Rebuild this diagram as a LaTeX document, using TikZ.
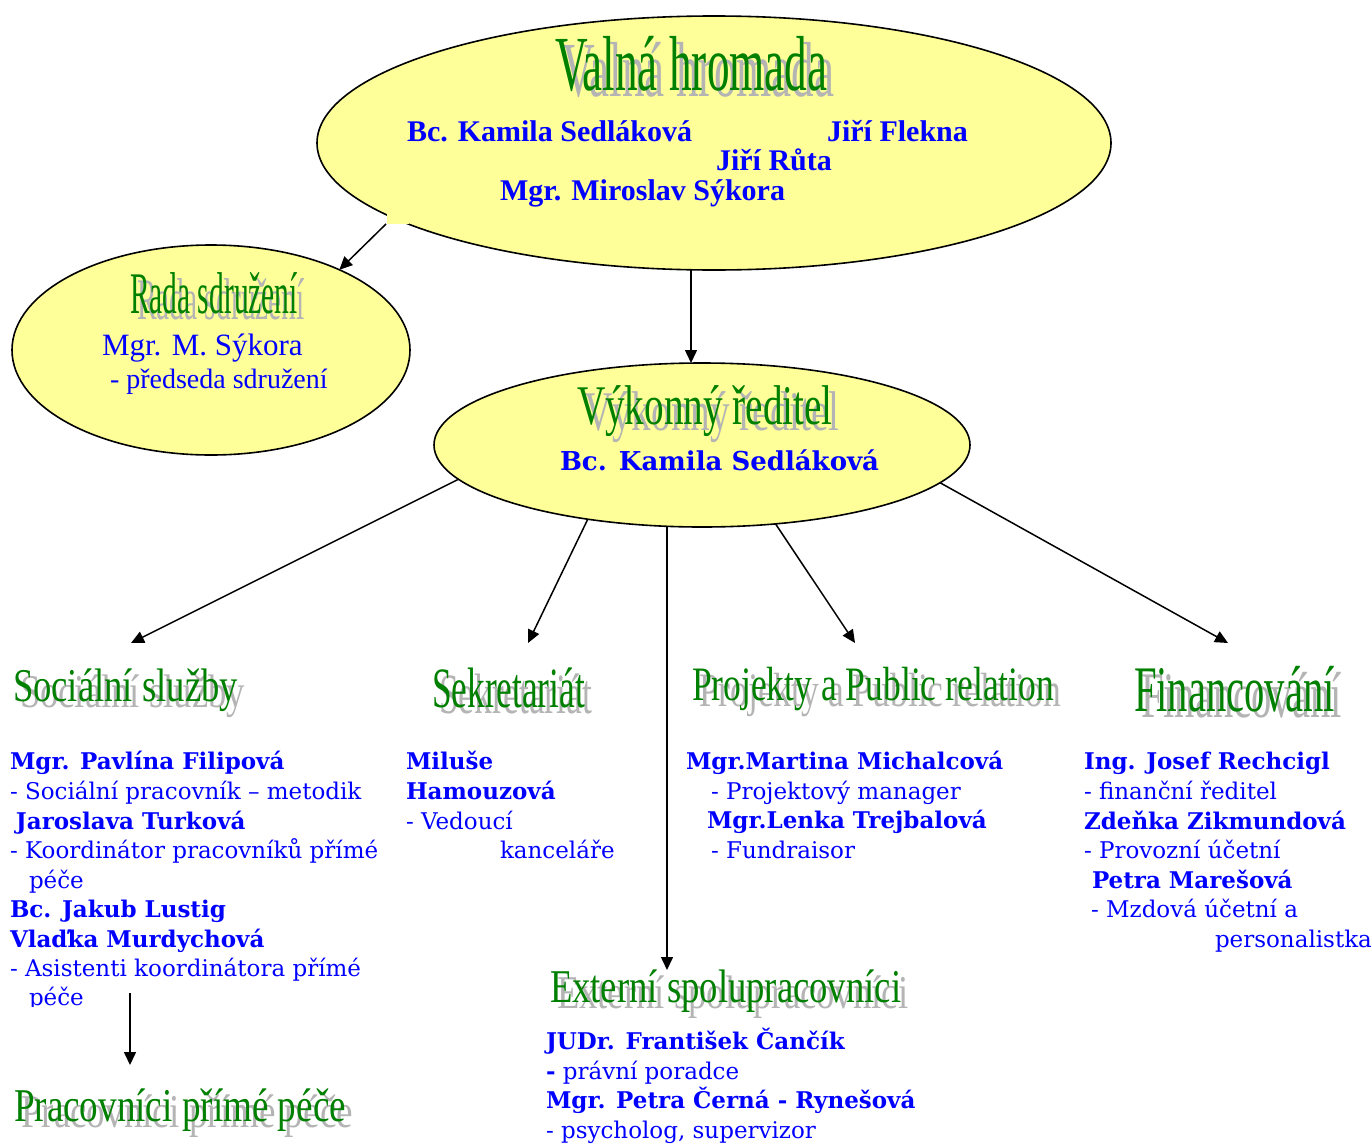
\documentclass[tikz,border=0pt]{standalone}
\usepackage{fontspec}
\usepackage{graphicx}
\usetikzlibrary{shapes.geometric,arrows.meta}
\setmainfont{Liberation Serif}
\newfontfamily\tnr{Liberation Serif}
\newfontfamily\geo{DejaVu Serif}
\newfontfamily\wafont{Liberation Serif}
\definecolor{wgreen}{RGB}{0,128,0}
\definecolor{wshadow}{RGB}{180,180,180}
\definecolor{nblue}{RGB}{0,0,255}
\definecolor{ell}{RGB}{255,255,153}
\newcommand\wart[3]{\scalebox{#1}[1]{\fontsize{#2}{#2}\selectfont\wafont #3}}
\newcommand\watitle[6]{%
  \node[wash] (#1s) at (#2+7,#3+6) {\wart{#4}{#5}{#6}};
  \node[wa] (#1) at (#2,#3) {\wart{#4}{#5}{#6}};}
\begin{document}
\begin{tikzpicture}[x=1pt,y=-1pt,
  ellip/.style={ellipse, draw=black, line width=1.6pt, fill=ell, inner sep=0pt, outer sep=0pt},
  arr/.style={draw=black, line width=1.5pt, -{Triangle[length=13pt,width=12pt]}},
  wa/.style={inner sep=0pt, outer sep=0pt, anchor=base west, text=wgreen},
  wash/.style={wa, text=wshadow},
  txt/.style={inner sep=0pt, outer sep=0pt, anchor=base west, text=nblue},
  bl/.style={txt, font=\geo\bfseries\fontsize{23}{23}\selectfont},
  rg/.style={txt, font=\geo\fontsize{23}{23}\selectfont},
  tb/.style={txt, font=\tnr\bfseries\fontsize{30}{30}\selectfont}
]
\useasboundingbox (0,0) rectangle (1372,1143);
\fill[white] (0,0) rectangle (1372,1143);

% ellipses
\node[ellip, minimum width=794pt, minimum height=254pt] (top) at (714,143) {};
\fill[ell] (386.5,211) rectangle (408.5,223.5);
\node[ellip, minimum width=398pt, minimum height=210pt] (rada) at (211,350) {};
\node[ellip, minimum width=536pt, minimum height=164pt] (vyk) at (702,445) {};

% connectors
\coordinate (n0) at (386,224);
\draw[arr] (n0) -- (rada.32);
\coordinate (c1) at (691,0);
\draw[arr] (top.south -| c1) -- (vyk.north -| c1);
\coordinate (t1) at (131,643);
\draw[arr] (vyk.188.4) -- (t1);
\coordinate (t2) at (528,643);
\draw[arr] (vyk.213.9) -- (t2);
\coordinate (c3) at (667,0);
\coordinate (t3) at (667,970);
\draw[arr] (vyk.south -| c3) -- (t3);
\coordinate (t4) at (855,643);
\draw[arr] (vyk.313.2) -- (t4);
\coordinate (t5) at (1228,643);
\draw[arr] (vyk.351.15) -- (t5);
\coordinate (b6) at (130,993);
\coordinate (t6) at (130,1065);
\draw[arr] (b6) -- (t6);

% titles
\watitle{tv}{555}{90}{0.58}{78}{Valná hromada}
\watitle{tr}{130}{313}{0.50}{59}{Rada sdružení}
\watitle{tk}{577}{424}{0.70}{56}{Výkonný ředitel}
\watitle{ts}{13}{701}{0.78}{47}{Sociální služby}
\watitle{tsk}{432}{707}{0.62}{57}{Sekretariát}
\watitle{tp}{692}{700}{0.74}{48}{Projekty a Public relation}
\watitle{tf}{1134}{711}{0.625}{65}{Financování}
\watitle{te}{550}{1002}{0.78}{47}{Externí spolupracovníci}
\watitle{tpp}{14}{1121}{0.79}{47}{Pracovníci přímé péče}

% top ellipse names
\node[tb] (n1) at (407,141) {Bc. Kamila Sedláková};
\node[tb] (n2) at (827,141) {Jiří Flekna};
\node[tb] (n3) at (716,170) {Jiří Růta};
\node[tb] (n4) at (500,200) {Mgr. Miroslav Sýkora};

% rada
\node[txt, font=\tnr\fontsize{31}{31}\selectfont] (r1) at (102,355) {Mgr. M. Sýkora};
\node[txt, font=\tnr\fontsize{28}{28}\selectfont] (r2) at (110,388) {- předseda sdružení};

% vykonny
\node[txt, font=\geo\bfseries\fontsize{26}{26}\selectfont] (v1) at (560,470) {Bc. Kamila Sedláková};

% socialni
\node[bl] (s1) at (10,769) {Mgr. Pavlína Filipová};
\node[rg] (s2) at (10,799) {- Sociální pracovník – metodik};
\node[bl] (s3) at (16,829) {Jaroslava Turková};
\node[rg] (s4) at (10,858) {- Koordinátor pracovníků přímé};
\node[rg] (s5) at (29,888) {péče};
\node[bl] (s6) at (10,917) {Bc. Jakub Lustig};
\node[bl] (s7) at (10,947) {Vlaďka Murdychová};
\node[rg] (s8) at (10,976) {- Asistenti koordinátora přímé};
\begin{scope}
\clip (0,985) rectangle (125,1006);
\node[rg] (s9) at (29,1005) {péče};
\end{scope}

% sekretariat
\node[bl] (k1) at (406,769) {Miluše};
\node[bl] (k2) at (406,799) {Hamouzová};
\node[rg] (k3) at (406,829) {- Vedoucí};
\node[rg] (k4) at (500,858) {kanceláře};

% projekty
\node[bl] (p1) at (686,769) {Mgr.Martina Michalcová};
\node[rg] (p2) at (711,799) {- Projektový manager};
\node[bl] (p3) at (707,828) {Mgr.Lenka Trejbalová};
\node[rg] (p4) at (711,858) {- Fundraisor};

% financovani
\node[bl] (f1) at (1084,769) {Ing. Josef Rechcigl};
\node[rg] (f2) at (1084,799) {- finanční ředitel};
\node[bl] (f3) at (1084,829) {Zdeňka Zikmundová};
\node[rg] (f4) at (1084,858) {- Provozní účetní};
\node[bl] (f5) at (1092,888) {Petra Marešová};
\node[rg] (f6) at (1091,917) {- Mzdová účetní a};
\node[rg] (f7) at (1215,947) {personalistka};

% externi
\node[bl] (e1) at (546,1049) {JUDr. František Čančík};
\node[rg] (e2) at (546,1079) {{\bfseries -} právní poradce};
\node[bl] (e3) at (546,1108) {Mgr. Petra Černá - Rynešová};
\node[rg] (e4) at (546,1138) {- psycholog, supervizor};
\end{tikzpicture}
\end{document}
